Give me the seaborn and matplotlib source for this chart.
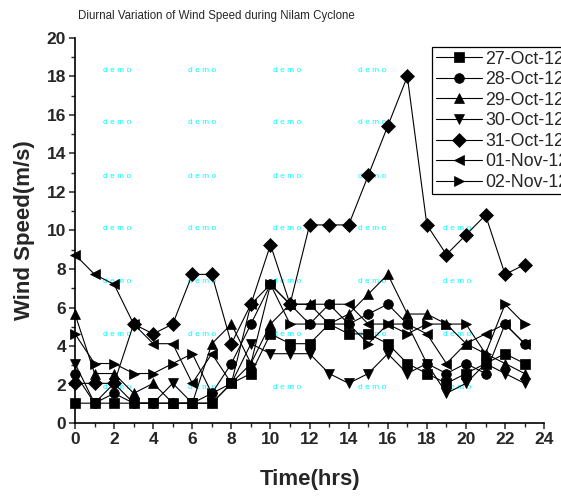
import pandas as pd
import numpy as np
from matplotlib import pyplot as plt
import seaborn as sns

hours = list(range(24))
dates = ["27-Oct-12", "28-Oct-12", "29-Oct-12", "30-Oct-12", "31-Oct-12", "01-Nov-12", "02-Nov-12"]

oct27 = [1.03, 1.03, 1.03, 1.03, 1.03, 1.03, 1.03, 1.03, 2.06, 2.57, 4.63, 4.12,
         4.12, 5.14, 4.63, 4.63, 4.12, 3.09, 2.57, 2.06, 2.57, 3.09, 3.6, 3.09]
oct28 = [2.57, 1.03, 1.54, 1.03, 1.03, 1.03, 1.03, 1.54, 3.09, 5.14, 7.2, 6.17,
         5.14, 6.17, 5.14, 5.66, 6.17, 5.14, 3.09, 2.57, 3.09, 2.57, 5.14, 4.12]
oct29 = [5.66, 2.57, 2.57, 1.54, 2.06, 1.03, 1.03, 4.12, 5.14, 3.09, 5.14, 6.17,
         6.17, 5.14, 5.66, 6.69, 7.72, 5.66, 5.66, 5.14, 4.12, 3.6, 3.09, 2.57]
oct30 = [3.09, 1.03, 2.06, 1.03, 1.03, 2.06, 1.03, 1.03, 2.06, 4.12, 3.6, 3.6,
         3.6, 2.57, 2.06, 2.57, 3.6, 2.57, 3.09, 1.54, 2.06, 3.09, 2.57, 2.06]
oct31 = [2.06, 2.06, 2.06, 5.14, 4.63, 5.14, 7.72, 7.72, 4.12, 6.17, 9.26, 6.17,
         10.29, 10.29, 10.29, 12.86, 15.43, 18.0, 10.29, 8.75, 9.77, 10.8, 7.72, 8.23]
nov01 = [8.75, 7.72, 7.2, 5.14, 4.12, 4.12, 2.06, 3.6, 2.06, 6.17, 7.2, 6.17,
         6.17, 6.17, 6.17, 5.14, 5.14, 5.14, 4.63, 3.09, 4.12, 4.63, 5.14, 4.12]
nov02 = [4.63, 3.09, 3.09, 2.57, 2.57, 3.09, 3.6, 1.54, 2.06, 3.09, 7.2, 5.14,
         5.14, 5.14, 5.14, 4.12, 5.14, 4.63, 5.14, 5.14, 5.14, 3.6, 6.17, 5.14]

series = [oct27, oct28, oct29, oct30, oct31, nov01, nov02]
marker_list = ["s", "o", "^", "v", "D", "<", ">"]

df = pd.concat([pd.DataFrame({"hour": hours, "speed": s, "date": d})
                for d, s in zip(dates, series)], ignore_index=True)

sns.set_style("ticks")
plt.rcParams["font.family"] = ["Liberation Sans", "DejaVu Sans"]

fig = plt.figure(figsize=(5.61, 4.98), dpi=100)
ax = fig.add_axes([0.1337, 0.1506, 0.8363, 0.7731])

sns.lineplot(data=df, x="hour", y="speed", hue="date", style="date",
             markers=marker_list, dashes=False, palette=["black"] * 7,
             markersize=7, markeredgecolor="black", markeredgewidth=0.5,
             linewidth=0.8, errorbar=None, clip_on=False, ax=ax)

ax.set_xlim(0, 24)
ax.set_ylim(0, 20)
ax.set_xticks(range(0, 25, 2))
ax.set_xticks(range(0, 25), minor=True)
ax.set_yticks(range(0, 21, 2))
ax.set_yticks(range(0, 21), minor=True)
ax.tick_params(which="major", direction="out", length=4, width=1.1, labelsize=12.5, pad=2.5)
ax.tick_params(which="minor", direction="out", length=3, width=1.0)
for lab in ax.get_xticklabels() + ax.get_yticklabels():
    lab.set_fontweight("bold")
for side in ["left", "bottom"]:
    ax.spines[side].set_linewidth(1.2)
    ax.spines[side].set_color("black")
sns.despine(ax=ax)

ax.set_xlabel("Time(hrs)", fontsize=16, fontweight="bold", labelpad=16)
ax.set_ylabel("Wind Speed(m/s)", fontsize=16, fontweight="bold", labelpad=8)
fig.text(78 / 561, 1 - 16 / 498, "Diurnal Variation of Wind Speed during Nilam Cyclone",
         fontsize=8.3, ha="left", va="center")

# legend runs past the right edge like in the original
handles, labels = ax.get_legend_handles_labels()
leg = ax.legend(handles, labels, loc="upper left", bbox_to_anchor=(432 / 561, 1 - 47 / 498),
                bbox_transform=fig.transFigure, borderaxespad=0, fontsize=12.8,
                handlelength=2.6, handletextpad=0.2, labelspacing=0.2, borderpad=0.2,
                fancybox=False, framealpha=1, edgecolor="black")
leg.get_frame().set_linewidth(0.9)

# watermark
for wy in [70, 123, 176, 228, 281, 334, 387]:
    for wx in [117, 202, 287, 372, 457]:
        ax.text(wx / 561, 1 - wy / 498, "d e m o", transform=fig.transFigure,
                fontsize=6, color="#00FFFF", ha="center", va="center", zorder=0.5)

fig.savefig("out.png", dpi=100)
